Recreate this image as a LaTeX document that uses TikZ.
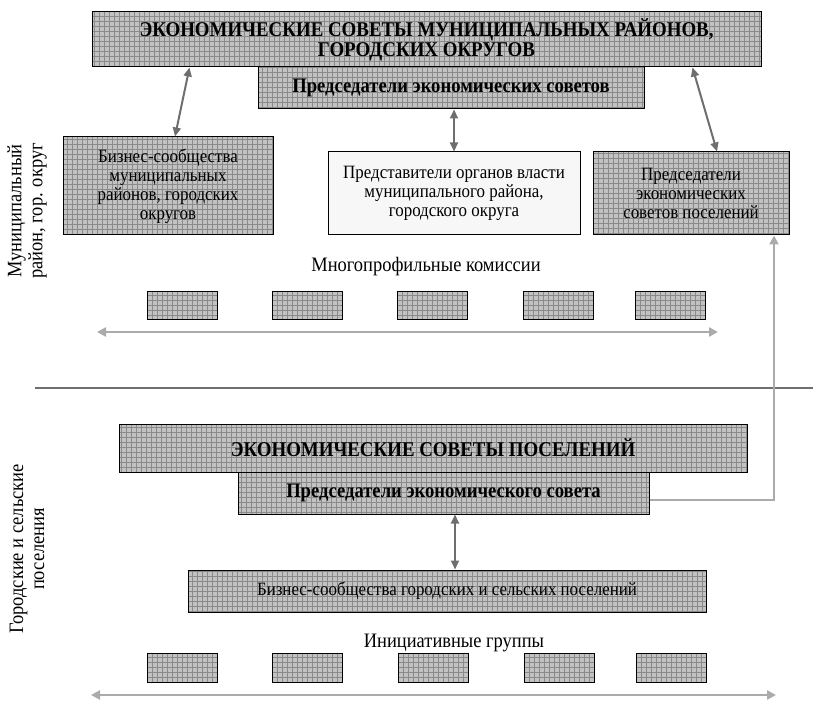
\documentclass[tikz,border=0pt]{standalone}
\usepackage{fontspec}
\setmainfont[FakeStretch=0.9]{Liberation Serif}
\usetikzlibrary{arrows.meta,calc}
\definecolor{cellfill}{HTML}{C2C2C2}
\definecolor{cellline}{HTML}{8A8A8A}
\definecolor{arrowdark}{HTML}{6E6E6E}
\definecolor{arrowlight}{HTML}{ABABAB}
\definecolor{paleface}{HTML}{F7F7F7}
\newcommand{\bodysize}{\fontsize{18.8}{19}\selectfont}
\newcommand{\labelsize}{\fontsize{20.5}{21}\selectfont}
\newcommand{\headsize}{\fontsize{20.7}{20}\selectfont\bfseries}
\newcommand{\titlesize}{\fontsize{21}{20}\selectfont\bfseries}
\begin{document}
\begin{tikzpicture}[x=1pt,y=-1pt,
  gridbox/.style={draw=black, line width=1pt, fill=cellfill, inner sep=0pt, align=center,
    path picture={\draw[cellline, line width=0.35pt]
      (path picture bounding box.south west) grid[step=5pt]
      (path picture bounding box.north east);}},
  plainbox/.style={draw=black, line width=1pt, fill=paleface, inner sep=0pt, align=center},
  darrow/.style={draw=arrowdark, line width=2pt, {Triangle[length=9pt,width=8pt]}-{Triangle[length=9pt,width=8pt]}},
  larrow/.style={draw=arrowlight, line width=2.5pt, {Triangle[length=9pt,width=9pt]}-{Triangle[length=9pt,width=9pt]}},
  lconn/.style={draw=arrowlight, line width=2.5pt, -{Triangle[length=9pt,width=9pt]}},
  divider/.style={draw=arrowdark, line width=2.5pt},
  sidelabel/.style={rotate=90, align=center, font=\labelsize},
  rowlabel/.style={font=\labelsize}]
\useasboundingbox (0,0) rectangle (813,703);

% municipal level
\node[gridbox, minimum width=669, minimum height=55, font=\titlesize] (T1) at (426.5,39.5)
  {ЭКОНОМИЧЕСКИЕ СОВЕТЫ МУНИЦИПАЛЬНЫХ РАЙОНОВ,\\ГОРОДСКИХ ОКРУГОВ};
\node[gridbox, minimum width=386, minimum height=42, font=\headsize] (C1) at (451,88)
  {Председатели экономических советов};
\node[gridbox, minimum width=210, minimum height=98, font=\bodysize] (B1) at (168,186)
  {Бизнес-сообщества\\муниципальных\\районов, городских\\округов};
\node[plainbox, minimum width=252, minimum height=83, font=\bodysize] (R1) at (454,193.5)
  {Представители органов власти\\муниципального района,\\городского округа};
\node[gridbox, minimum width=196, minimum height=83, font=\bodysize] (P1) at (691,193.5)
  {Председатели\\экономических\\советов поселений};

\draw[darrow] ($(B1.north)+(7,0)$) -- ($(T1.south west)+(98,0)$);
\draw[darrow] (C1.south -| R1.north) -- (R1.north);
\draw[darrow] ($(T1.south west)+(601,0)$) -- ($(P1.north)+(26,0)$);

\node[rowlabel] (L1) at (426,267) {Многопрофильные комиссии};
\foreach \i/\cx in {1/182,2/307,3/432.5,4/558,5/670}
  \node[gridbox, minimum width=70, minimum height=28] (K\i) at (\cx,305) {};
\coordinate (m1l) at (97,332);
\coordinate (m1r) at (718,332);
\draw[larrow] (m1l) -- (m1r);

\node[sidelabel] (S1) at (27,211) {Муниципальный\\район, гор. округ};

% divider between levels
\coordinate (dl) at (35,388);
\coordinate (dr) at (813,388);
\draw[divider] (dl) -- (dr);

% settlement level
\node[gridbox, minimum width=628, minimum height=48, font=\titlesize] (T2) at (433,448)
  {ЭКОНОМИЧЕСКИЕ СОВЕТЫ ПОСЕЛЕНИЙ};
\node[gridbox, minimum width=411, minimum height=42, font=\headsize] (C2) at (443.5,493)
  {Председатели экономического совета};
\node[gridbox, minimum width=518, minimum height=42, font=\bodysize] (B2) at (447,591)
  {Бизнес-сообщества городских и сельских поселений};

\draw[darrow] ($(C2.south)+(11.5,0)$) -- ($(B2.north)+(8,0)$);
\draw[lconn] ($(C2.east)+(0,7)$) -| ($(P1.south)+(83,0)$);

\node[rowlabel] (L2) at (454,643) {Инициативные группы};
\foreach \i/\cx in {1/182,2/307.5,3/433.5,4/559,5/671}
  \node[gridbox, minimum width=70, minimum height=29] (G\i) at (\cx,667.5) {};
\coordinate (m2l) at (91,695);
\coordinate (m2r) at (776,695);
\draw[larrow] (m2l) -- (m2r);

\node[sidelabel] (S2) at (27,549) {Городские и сельские\\поселения};
\end{tikzpicture}
\end{document}
